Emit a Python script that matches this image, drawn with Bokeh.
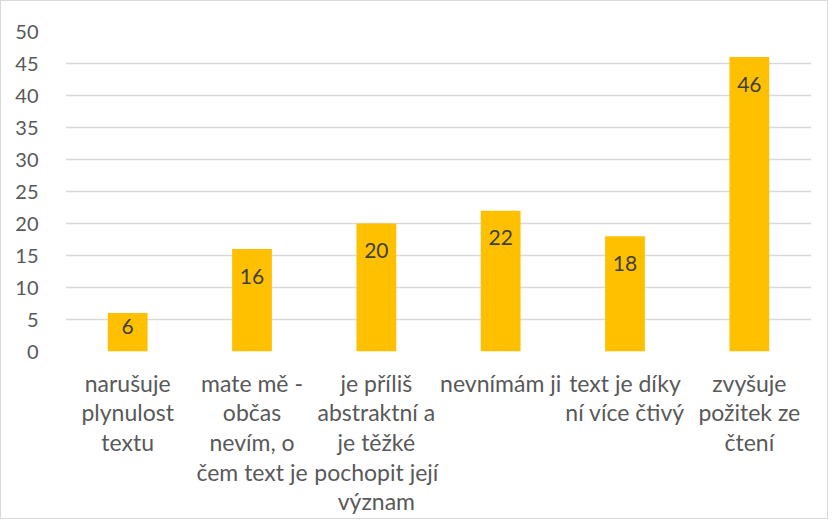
from bokeh.plotting import figure
from bokeh.models import ColumnDataSource, FixedTicker, Range1d
from bokeh.core.properties import value
from bokeh.embed import file_html
from bokeh.resources import INLINE

categories = [
    "narušuje\nplynulost\ntextu",
    "mate mě -\nobčas\nnevím, o\nčem text je",
    "je příliš\nabstraktní a\nje těžké\npochopit její\nvýznam",
    "nevnímám ji",
    "text je díky\nní více čtivý",
    "zvyšuje\npožitek ze\nčtení",
]
values = [6, 16, 20, 22, 18, 46]
y_ticks = [0, 5, 10, 15, 20, 25, 30, 35, 40, 45, 50]

FONT = "Lato"
FRAME_H = 320
Y_MAX = 50
px_per_unit = FRAME_H / Y_MAX
# label offset below bar top (inside end), clamped for short bars
offsets = [min(27, v * px_per_unit / 2 - 6) for v in values]

src = ColumnDataSource(dict(cat=categories, val=values, lab=[str(v) for v in values], off=offsets))

p = figure(x_range=categories, y_range=Range1d(0, Y_MAX),
           output_backend="svg", toolbar_location=None,
           min_border_left=64, min_border_right=16, min_border_top=30, min_border_bottom=4,
           frame_width=746, frame_height=FRAME_H,
           styles={"border": "1px solid #d9d9d9"})
p.outline_line_color = None
p.background_fill_color = "white"
p.border_fill_color = "white"

p.vbar(x="cat", top="val", width=0.32, source=src, color="#FFC000", line_color=None)
p.text(x="cat", y="val", text="lab", source=src, text_align="center", text_baseline="middle",
       y_offset="off", text_font=value(FONT), text_font_size="21px", text_color="#404040")

p.xgrid.grid_line_color = None
p.ygrid.grid_line_color = "#d9d9d9"
p.ygrid.grid_line_width = 1.5
p.ygrid.ticker = FixedTicker(ticks=y_ticks)

p.yaxis.ticker = FixedTicker(ticks=y_ticks)
p.yaxis.axis_line_color = None
p.yaxis.major_tick_line_color = None
p.yaxis.minor_tick_line_color = None
p.yaxis.major_label_standoff = 21
p.yaxis.major_label_text_font = FONT
p.yaxis.major_label_text_font_size = "20px"
p.yaxis.major_label_text_color = "#595959"

p.xaxis.axis_line_color = None
p.xaxis.major_tick_line_color = None
p.xaxis.major_label_standoff = 11
p.xaxis.major_label_text_font = FONT
p.xaxis.major_label_text_font_size = "23px"
p.xaxis.major_label_text_color = "#595959"
p.xaxis.major_label_text_line_height = 1.06
p.x_range.range_padding = 0

open("out.html", "w").write(file_html(p, INLINE))
